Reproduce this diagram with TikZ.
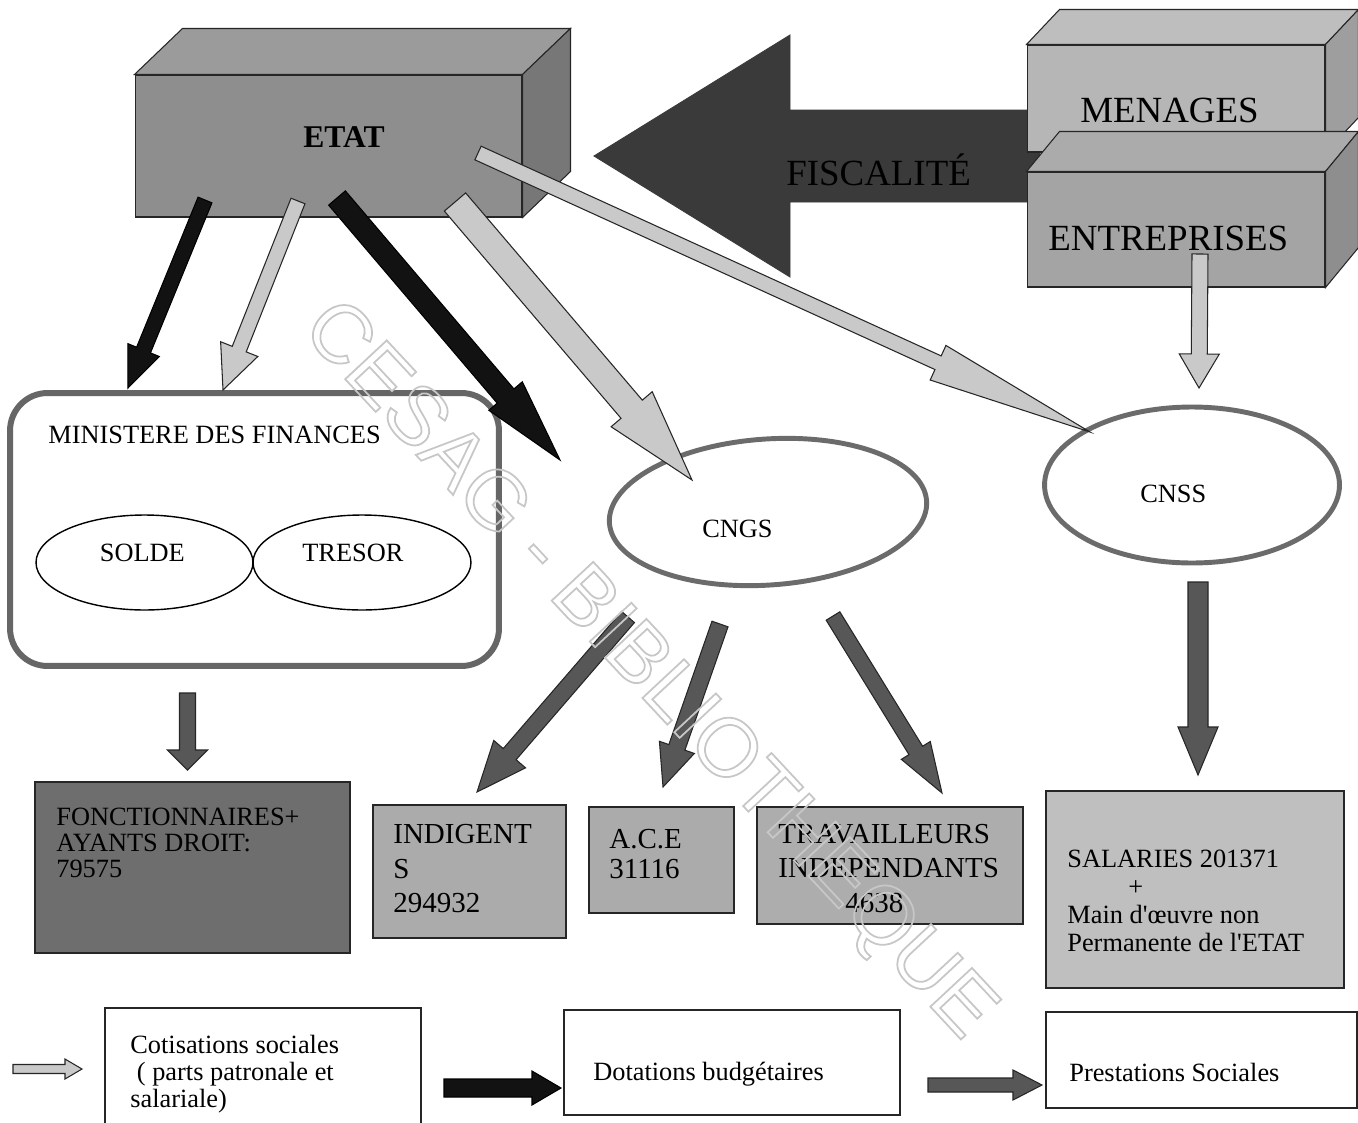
\documentclass[tikz,border=0pt]{standalone}
\usepackage{fontspec}
\setmainfont{Liberation Serif}
\newfontfamily\filigrane{Liberation Sans}
\usetikzlibrary{calc, shapes.geometric, positioning}

% flèche pleine : [style]{origine}{pointe}{demi-corps}{demi-tête}{longueur tête}
\newcommand{\fleche}[6][]{%
  \coordinate (fl-base) at ($(#3)!#6*0.02cm!(#2)$);
  \filldraw[#1] ($(#2)!#4*0.02cm!90:(#3)$) -- ($(fl-base)!#4*0.02cm!90:(#3)$)
    -- ($(fl-base)!#5*0.02cm!90:(#3)$) -- (#3)
    -- ($(fl-base)!#5*0.02cm!-90:(#3)$) -- ($(fl-base)!#4*0.02cm!-90:(#3)$)
    -- ($(#2)!#4*0.02cm!-90:(#3)$) -- cycle;
}
% faces du dessus et de côté d'un bloc : {noeud}{dx}{dy}{dessus}{côté}
\newcommand{\profondeur}[5]{%
  \filldraw[fill=#4, trait] (#1.north west) -- ++(#2,#3) -- ($(#1.north east)+(#2,#3)$) -- (#1.north east) -- cycle;
  \filldraw[fill=#5, trait] (#1.north east) -- ++(#2,#3) -- ($(#1.south east)+(#2,#3)$) -- (#1.south east) -- cycle;
}

\begin{document}
\begin{tikzpicture}[x=0.02cm, y=-0.02cm,
    trait/.style={draw=black!85, line width=0.6pt},
    face/.style={rectangle, trait, inner sep=0pt},
    cadre/.style={rectangle, draw=black!85, line width=0.9pt, inner sep=0pt},
    ovale/.style={ellipse, draw=black!58, line width=2.8pt, inner sep=0pt},
    bulle/.style={ellipse, draw=black, line width=0.8pt, inner sep=0pt},
    texte/.style={inner sep=0pt, anchor=base west, font=\fontsize{15}{15}\selectfont},
    bloc/.style={inner sep=0pt, anchor=north west, align=left},
    noire/.style={fill=black!93, draw=black, line width=0.6pt},
    claire/.style={fill=black!21, draw=black!85, line width=0.6pt},
    foncee/.style={fill=black!66, draw=black!85, line width=0.6pt}]

    % Couleurs
    \definecolor{fisc}{HTML}{3A3A3A}
    \definecolor{etatface}{HTML}{8E8E8E}
    \definecolor{etattop}{HTML}{9B9B9B}
    \definecolor{etatside}{HTML}{777777}
    \definecolor{menface}{HTML}{B6B6B6}
    \definecolor{mentop}{HTML}{BEBEBE}
    \definecolor{menside}{HTML}{9E9E9E}
    \definecolor{entface}{HTML}{A4A4A4}
    \definecolor{enttop}{HTML}{ABABAB}
    \definecolor{entside}{HTML}{8E8E8E}

    % 0. Cadre de la figure
    \useasboundingbox (0,0) rectangle (1358,1122);
    \fill[white] (0,0) rectangle (1358,1122);

    % 1. Flèche FISCALITÉ
    \coordinate (fisc-o) at (1040,156);
    \coordinate (fisc-p) at (594,156);
    \fleche[fill=fisc, draw=fisc, line width=0.5pt]{fisc-o}{fisc-p}{46}{121}{196}

    % 2. Blocs ETAT, MENAGES, ENTREPRISES
    \node[face, fill=etatface, minimum width=7.74cm, minimum height=2.84cm] (etat) at (328.5,146) {};
    \profondeur{etat}{48}{-46}{etattop}{etatside}
    \node[anchor=base west, inner sep=0pt, font=\fontsize{18}{18}\selectfont\bfseries] (etat-txt) at (303,147) {ETAT};

    \node[face, fill=menface, minimum width=5.96cm, minimum height=2.14cm] (menages) at (1176,98.5) {};
    \profondeur{menages}{33}{-35}{mentop}{menside}
    \node[texte, font=\fontsize{21}{21}\selectfont] (menages-txt) at (1080,122) {MENAGES};

    \node[face, fill=entface, minimum width=5.96cm, minimum height=2.3cm] (entreprises) at (1176,229.5) {};
    \profondeur{entreprises}{33}{-40}{enttop}{entside}
    \node[texte, font=\fontsize{21}{21}\selectfont] (entreprises-txt) at (1048,250) {ENTREPRISES};

    \node[texte, font=\fontsize{21}{21}\selectfont] (fisc-txt) at (786,185) {FISCALITÉ};

    % 3. Ministère des finances
    \node[draw=black!60, line width=3.4pt, rounded corners=0.75cm, minimum width=9.78cm, minimum height=5.46cm] (minfin) at (254.5,529.5) {};
    \node[texte] (minfin-txt) at (48,443) {MINISTERE DES FINANCES};
    \node[bulle, minimum width=4.34cm, minimum height=1.9cm] (solde) at (144.5,562.5) {};
    \node[texte] (solde-txt) at (99.5,561) {SOLDE};
    \node[bulle, minimum width=4.36cm, minimum height=1.9cm] (tresor) at (362,562.5) {};
    \node[texte] (tresor-txt) at (302,561) {TRESOR};

    % 4. CNGS et CNSS
    \node[ovale, rotate=4, minimum width=6.36cm, minimum height=2.92cm] (cngs) at (768,512) {};
    \node[texte] (cngs-txt) at (702,537) {CNGS};
    \node[ovale, minimum width=5.9cm, minimum height=3.12cm] (cnss) at (1192,485) {};
    \node[texte] (cnss-txt) at (1140,502) {CNSS};

    % 5. Flèches partant de l'ETAT
    \coordinate (etat-1) at (205,200);
    \coordinate (fin-1) at (128,388);
    \fleche[noire]{etat-1}{fin-1}{7.5}{17}{41}
    \coordinate (etat-2) at (298,201);
    \coordinate (fin-2) at (223,390);
    \fleche[claire]{etat-2}{fin-2}{7.5}{20}{44}
    \coordinate (etat-3) at (337,198);
    \coordinate (dot-3) at (560,460);
    \fleche[noire]{etat-3}{dot-3}{11}{22}{84}
    \coordinate (etat-4) at (455,202);
    \coordinate (cngs-in) at (692,480);
    \fleche[claire]{etat-4}{cngs-in}{14}{27}{93}
    \coordinate (etat-5) at (478,153);
    \coordinate (cnss-in) at (1090,432);
    \fleche[claire]{etat-5}{cnss-in}{7.5}{19}{167}
    \coordinate (ent-out) at (1200,254);
    \coordinate (cnss-top) at (1199,388);
    \fleche[claire]{ent-out}{cnss-top}{8}{20}{34}

    % 6. Bénéficiaires
    \coordinate (minfin-out) at (187.5,693);
    \coordinate (fonct-in) at (187.5,770);
    \fleche[foncee]{minfin-out}{fonct-in}{8}{20}{20}
    \coordinate (cngs-1) at (628,617);
    \coordinate (indig-in) at (477,792);
    \fleche[foncee]{cngs-1}{indig-in}{8.5}{21}{50}
    \coordinate (cngs-2) at (720,624);
    \coordinate (ace-in) at (663,787);
    \fleche[foncee]{cngs-2}{ace-in}{8.5}{18.5}{42}
    \coordinate (cngs-3) at (833,616);
    \coordinate (trav-in) at (942,793);
    \fleche[foncee]{cngs-3}{trav-in}{8}{17}{50}
    \coordinate (cnss-out) at (1198,582);
    \coordinate (sal-in) at (1198,775);
    \fleche[foncee]{cnss-out}{sal-in}{10}{20}{48}

    \node[cadre, fill=black!57, minimum width=6.3cm, minimum height=3.42cm] (fonct) at (192.5,867.5) {};
    \node[bloc, font=\fontsize{15}{14.8}\selectfont] (fonct-txt) at (56,807.5)
        {FONCTIONNAIRES+\\AYANTS DROIT:\\79575};
    \node[cadre, fill=black!33, minimum width=3.86cm, minimum height=2.66cm] (indig) at (469.5,871.5) {};
    \node[bloc, font=\fontsize{16.5}{19.8}\selectfont] (indig-txt) at (393,823.8)
        {INDIGENT\\S\\294932};
    \node[cadre, fill=black!33, minimum width=2.9cm, minimum height=2.12cm] (ace) at (661.5,860) {};
    \node[bloc, font=\fontsize{16.5}{17}\selectfont] (ace-txt) at (609,828.8)
        {A.C.E\\31116};
    \node[cadre, fill=black!32, minimum width=5.32cm, minimum height=2.34cm] (trav) at (890,865.5) {};
    \node[bloc, font=\fontsize{16.5}{19.6}\selectfont] (trav-txt) at (778,823.8)
        {TRAVAILLEURS\\INDEPENDANTS\\\hspace*{1.34cm}4638};
    \node[cadre, fill=black!25, minimum width=5.96cm, minimum height=3.94cm] (sal) at (1195,889.5) {};
    \node[bloc, font=\fontsize{15}{15.9}\selectfont] (sal-txt) at (1067,850)
        {SALARIES 201371\\\hspace*{1.22cm}+\\Main d\textquotesingle œuvre non\\Permanente de l\textquotesingle ETAT};

    % 7. Légende
    \coordinate (leg-1o) at (13,1069);
    \coordinate (leg-1p) at (82,1069);
    \fleche[claire]{leg-1o}{leg-1p}{4.5}{10}{17}
    \node[cadre, minimum width=6.32cm, minimum height=2.64cm] (cot) at (263,1074) {};
    \node[bloc, font=\fontsize{15}{15.3}\selectfont] (cot-txt) at (130,1035)
        {Cotisations sociales\\\ ( parts patronale et\\salariale)};
    \coordinate (leg-2o) at (444,1088);
    \coordinate (leg-2p) at (561,1088);
    \fleche[noire]{leg-2o}{leg-2p}{9}{17}{29}
    \node[cadre, minimum width=6.72cm, minimum height=2.1cm] (dot) at (732,1062.5) {};
    \node[texte] (dot-txt) at (593,1080) {Dotations budgétaires};
    \coordinate (leg-3o) at (928,1085);
    \coordinate (leg-3p) at (1042,1085);
    \fleche[foncee]{leg-3o}{leg-3p}{7}{15}{29}
    \node[cadre, minimum width=6.22cm, minimum height=1.92cm] (prest) at (1201.5,1060) {};
    \node[texte] (prest-txt) at (1069,1081) {Prestations Sociales};

    % 8. Filigrane
    \node[rotate=-47, inner sep=0pt, text=black!22, font=\filigrane\fontsize{47}{47}\selectfont] (filigrane) at (647,672)
        {\special{pdf:literal direct 1 Tr 1 w}CESAG - BIBLIOTHEQUE\special{pdf:literal direct 0 Tr}};
\end{tikzpicture}
\end{document}
